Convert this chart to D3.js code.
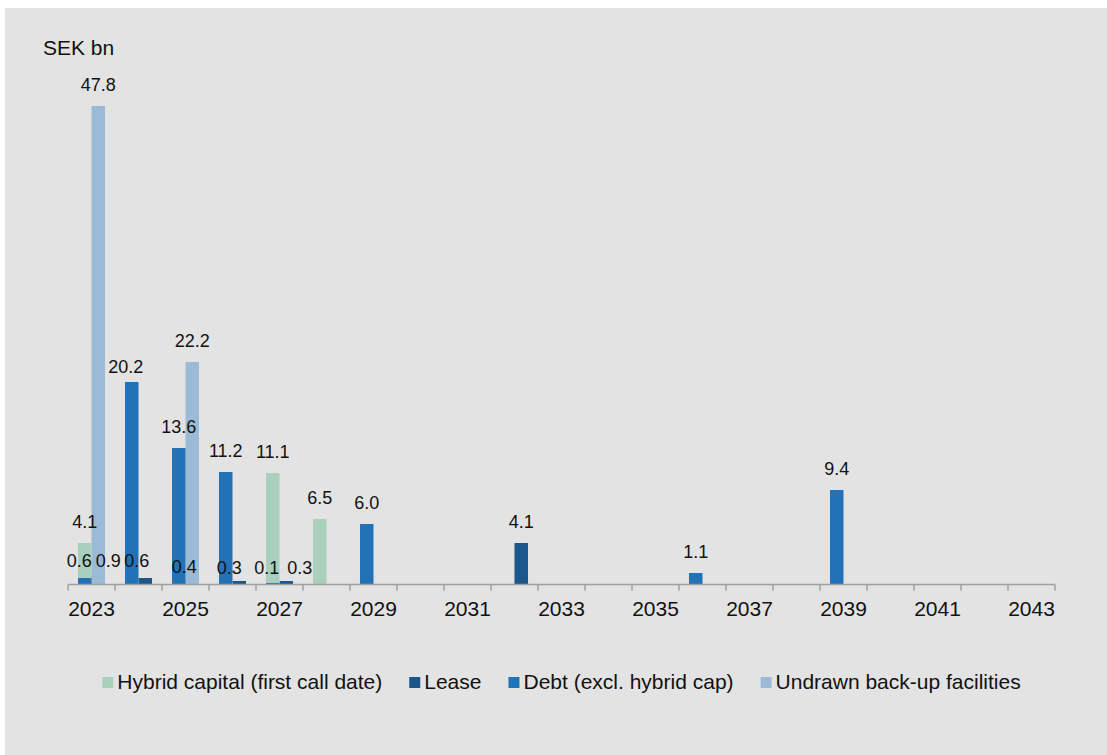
<!DOCTYPE html>
<html>
<head>
<meta charset="utf-8">
<script src="https://cdn.jsdelivr.net/npm/d3@7"></script>
<style>
  html, body { margin: 0; padding: 0; background: #ffffff; }
  svg { display: block; }
  text { font-family: "Liberation Sans", Arial, sans-serif; fill: #111; }
</style>
</head>
<body>
<svg id="chart" width="1107" height="755"></svg>
<script>
// ---- data ----
const years = d3.range(2023, 2044);
const tickLabels = ["2023","2025","2027","2029","2031","2033","2035","2037","2039","2041","2043"];
const seriesNames = ["Hybrid capital (first call date)", "Lease", "Debt (excl. hybrid cap)", "Undrawn back-up facilities"];
// values per year, 2023..2043 (null = no value)
const hybrid  = [4.1, null, null, null, 11.1, 6.5, null, null, null, null, null, null, null, null, null, null, null, null, null, null, null];
const lease   = [0.9, 0.6, 0.4, 0.3, 0.3, null, null, null, null, 4.1, null, null, null, null, null, null, null, null, null, null, null];
const debt    = [0.6, 20.2, 13.6, 11.2, 0.1, null, 6.0, null, null, null, null, null, null, 1.1, null, null, 9.4, null, null, null, null];
const undrawn = [47.8, null, 22.2, null, null, null, null, null, null, null, null, null, null, null, null, null, null, null, null, null, null];

// ---- styles / layout ----
const colors = ["#a9cfbd", "#1b568c", "#2272b8", "#9bbad6"];
const slots  = ["left", "right", "left", "right"]; // hybrid & debt share left slot; lease & undrawn share right
const drawOrder = [1, 3, 0, 2];
// manual label nudges [dx, dy], keyed by series index and year
const labelNudge = {
  "2-2023": [-5.5, 4], "1-2023": [10, 7], "2-2024": [-6, 6], "1-2024": [-8.5, 4],
  "1-2025": [-8, 8.5], "1-2026": [-10, 8], "2-2027": [-6, 6], "1-2027": [13.5, 8]
};

const allSeries = [hybrid, lease, debt, undrawn];
const svg = d3.select("#chart");
svg.append("rect").attr("x", 5).attr("y", 8).attr("width", 1102).attr("height", 747).attr("fill", "#e3e3e3");

const plot = { left: 68, right: 1055, top: 84, bottom: 584 };
const x = d3.scaleBand().domain(years).range([plot.left, plot.right]).paddingInner(0).paddingOuter(0);
const xs = d3.scaleBand().domain(["left", "right"]).range([0, x.bandwidth()]).paddingInner(0).paddingOuter(0.74);
const y = d3.scaleLinear().domain([0, 50]).range([plot.bottom, plot.top]);

// bars
drawOrder.forEach(si => {
  const vals = allSeries[si];
  const data = years.map((yr, i) => ({ yr, v: vals[i] })).filter(d => d.v != null);
  svg.append("g").selectAll("rect").data(data).join("rect")
    .attr("x", d => x(d.yr) + xs(slots[si]))
    .attr("width", xs.bandwidth())
    .attr("y", d => y(d.v))
    .attr("height", d => y(0) - y(d.v))
    .attr("fill", colors[si]);
});

// axis
const axisG = svg.append("g").attr("transform", `translate(0,${plot.bottom + 0.5})`);
axisG.append("line").attr("x1", plot.left).attr("x2", plot.right).attr("stroke", "#a0a0a0").attr("stroke-width", 1.5);
const bounds = years.map(yr => x(yr)).concat([plot.right]);
axisG.selectAll("line.tick").data(bounds).join("line").attr("class", "tick")
  .attr("x1", d => d).attr("x2", d => d).attr("y1", 0).attr("y2", 6)
  .attr("stroke", "#a0a0a0").attr("stroke-width", 1.5);
axisG.selectAll("text").data(tickLabels).join("text")
  .attr("x", d => x(+d) + x.bandwidth() / 2)
  .attr("y", 31.5)
  .attr("text-anchor", "middle")
  .attr("font-size", 21)
  .text(d => d);

// data labels
[0, 1, 2, 3].forEach(si => {
  const vals = allSeries[si];
  const data = years.map((yr, i) => ({ yr, v: vals[i] })).filter(d => d.v != null);
  svg.append("g").selectAll("text").data(data).join("text")
    .attr("x", d => x(d.yr) + xs(slots[si]) + xs.bandwidth() / 2 + ((labelNudge[si + "-" + d.yr] || [0, 0])[0]))
    .attr("y", d => y(d.v) - 15.5 + ((labelNudge[si + "-" + d.yr] || [0, 0])[1]))
    .attr("text-anchor", "middle")
    .attr("font-size", 18)
    .text(d => d3.format(".1f")(d.v));
});

// unit label
svg.append("text").attr("x", 43).attr("y", 55).attr("font-size", 21).text("SEK bn");

// legend
const legend = svg.append("g");
let cx = 0;
const items = [];
seriesNames.forEach((name, i) => {
  const g = legend.append("g");
  g.append("rect").attr("x", 0).attr("y", 677).attr("width", 11).attr("height", 11).attr("fill", colors[i]);
  const t = g.append("text").attr("x", 15).attr("y", 689).attr("font-size", 21).text(name);
  const w = 15 + t.node().getComputedTextLength();
  items.push({ g, w });
});
const gap = 27;
const total = d3.sum(items, d => d.w) + gap * (items.length - 1);
cx = (plot.left + plot.right) / 2 - total / 2;
items.forEach(it => { it.g.attr("transform", `translate(${cx},0)`); cx += it.w + gap; });
</script>
</body>
</html>
